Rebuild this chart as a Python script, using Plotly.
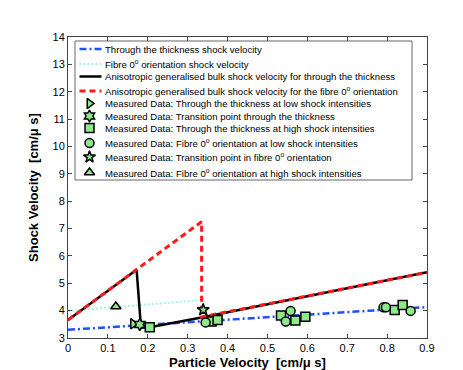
import plotly.graph_objects as go

# lines
thick_x = [0, 0.9]
thick_y = [3.30, 4.13]

fibre_x = [0, 0.339]
fibre_y = [3.99, 4.39]

bulk_thick_x = [0, 0.172, 0.183, 0.205, 0.338, 0.9]
bulk_thick_y = [3.66, 5.49, 3.38, 3.39, 3.76, 5.40]

bulk_fibre_x = [0, 0.335, 0.335, 0.9]
bulk_fibre_y = [3.66, 7.25, 3.77, 5.40]

# measured points
thick_low_x = [0.163]
thick_low_y = [3.52]
thick_trans_x = [0.180]
thick_trans_y = [3.49]
thick_high_x = [0.205, 0.360, 0.375, 0.534, 0.570, 0.595, 0.819, 0.839]
thick_high_y = [3.39, 3.60, 3.66, 3.82, 3.64, 3.78, 4.02, 4.21]
fibre_low_x = [0.345, 0.546, 0.558, 0.791, 0.797, 0.859]
fibre_low_y = [3.57, 3.60, 3.99, 4.12, 4.12, 3.99]
fibre_trans_x = [0.339]
fibre_trans_y = [4.03]
fibre_high_x = [0.120]
fibre_high_y = [4.15]

x_ticks = [0, 0.1, 0.2, 0.3, 0.4, 0.5, 0.6, 0.7, 0.8, 0.9]
y_ticks = list(range(3, 15))

legend_labels = [
    'Through the thickness shock velocity',
    'Fibre 0<sup>o</sup> orientation shock velocity',
    'Anisotropic generalised bulk shock velocity for through the thickness',
    'Anisotropic generalised bulk shock velocity for the fibre 0<sup>o</sup> orientation',
    'Measured Data: Through the thickness at low shock intensities',
    'Measured Data: Transition point through the thickness',
    'Measured Data: Through the thickness at high shock intensities',
    'Measured Data: Fibre 0<sup>o</sup> orientation at low shock intensities',
    'Measured Data: Transition point in fibre 0<sup>o</sup> orientation',
    'Measured Data: Fibre 0<sup>o</sup> orientation at high shock intensities',
]

GREEN = '#8fe88a'
BLUE = '#1f4fff'
CYAN = '#a8f0e6'
RED = '#ff1a1a'
marker_line = dict(color='black', width=1.5)

# plot area in pixels (for the hand-drawn legend box)
W, H = 463, 370
L, R, T, B = 60, 44, 29, 40
pw, ph = W - L - R, H - T - B


def px_x(p):
    return (p - L) / pw


def px_y(p):
    return (H - B - p) / ph


line_styles = [
    dict(color=BLUE, width=2.5, dash='7px,3px,2px,3px'),
    dict(color=CYAN, width=2, dash='2px,2px'),
    dict(color='black', width=2.5),
    dict(color=RED, width=3, dash='6px,4px'),
]
symbols = ['triangle-right', 'hexagram', 'square', 'circle', 'star', 'triangle-up']
row_px = [41, 56, 68.5, 83, 95.5, 108, 120, 135, 149, 164.5]

fig = go.Figure()

fig.add_trace(go.Scatter(x=thick_x, y=thick_y, mode='lines', line=line_styles[0]))
fig.add_trace(go.Scatter(x=fibre_x, y=fibre_y, mode='lines', line=line_styles[1]))
fig.add_trace(go.Scatter(x=bulk_thick_x, y=bulk_thick_y, mode='lines', line=line_styles[2]))
fig.add_trace(go.Scatter(x=bulk_fibre_x, y=bulk_fibre_y, mode='lines', line=line_styles[3]))

pts = [
    (thick_low_x, thick_low_y),
    (thick_trans_x, thick_trans_y),
    (thick_high_x, thick_high_y),
    (fibre_low_x, fibre_low_y),
    (fibre_trans_x, fibre_trans_y),
    (fibre_high_x, fibre_high_y),
]
for (xs, ys), sym in zip(pts, symbols):
    fig.add_trace(go.Scatter(x=xs, y=ys, mode='markers',
                             marker=dict(symbol=sym, size=9, color=GREEN, line=marker_line)))

# legend: box, line keys, marker keys, labels
shapes = [dict(type='rect', xref='paper', yref='paper', layer='below',
               x0=px_x(67), x1=px_x(404), y0=px_y(172), y1=px_y(33),
               line=dict(color='#666666', width=1), fillcolor='white')]
for i, st in enumerate(line_styles):
    shapes.append(dict(type='line', xref='paper', yref='paper',
                       x0=px_x(71.5), x1=px_x(93.5), y0=px_y(row_px[i]), y1=px_y(row_px[i]),
                       line=st))

fig.add_trace(go.Scatter(x=[px_x(81.5)] * 6, y=[px_y(p) for p in row_px[4:]],
                         xaxis='x2', yaxis='y2', mode='markers', hoverinfo='skip',
                         marker=dict(symbol=symbols, size=9, color=GREEN, line=marker_line)))

annotations = []
for lab, p in zip(legend_labels, row_px):
    annotations.append(dict(text=lab, xref='paper', yref='paper', x=px_x(95), y=px_y(p),
                            xanchor='left', yanchor='middle', showarrow=False,
                            font=dict(size=9.6), align='left'))

fig.update_layout(
    width=W, height=H,
    paper_bgcolor='white', plot_bgcolor='white',
    font=dict(family='Liberation Sans, Arial, sans-serif', color='black', size=11),
    margin=dict(l=L, r=R, t=T, b=B),
    showlegend=False,
    shapes=shapes,
    annotations=annotations,
    xaxis=dict(range=[0, 0.9], tickvals=x_ticks,
               showline=True, linecolor='#444444', linewidth=1, mirror='ticks',
               ticks='inside', ticklen=4, tickcolor='#444444', showgrid=False, zeroline=False,
               title=dict(text='<b>Particle Velocity  [cm/μ s]</b>', font=dict(size=13), standoff=4)),
    yaxis=dict(range=[3, 14], tickvals=y_ticks,
               showline=True, linecolor='#444444', linewidth=1, mirror='ticks',
               ticks='inside', ticklen=4, tickcolor='#444444', showgrid=False, zeroline=False,
               title=dict(text='<b>Shock Velocity  [cm/μ s]</b>', font=dict(size=13), standoff=10)),
    xaxis2=dict(overlaying='x', range=[0, 1], visible=False, fixedrange=True),
    yaxis2=dict(overlaying='y', range=[0, 1], visible=False, fixedrange=True),
)

fig.write_html("out.html")
